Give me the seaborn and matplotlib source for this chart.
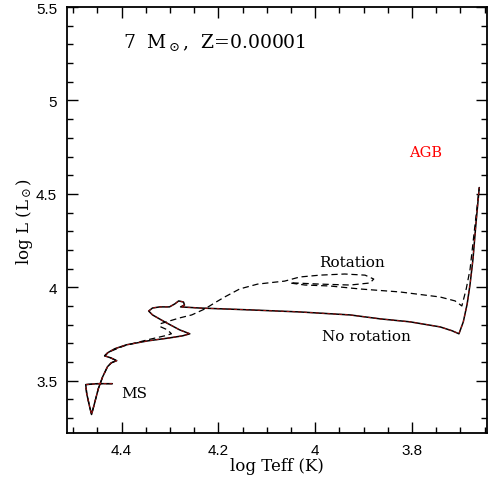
import numpy as np
import pandas as pd
import matplotlib
matplotlib.use("Agg")
import matplotlib.pyplot as plt
import seaborn as sns
from matplotlib.ticker import MultipleLocator, FormatStrFormatter

# --- track data (log Teff, log L) ---
teff_norot = [4.419, 4.450, 4.474, 4.472, 4.466, 4.462, 4.456, 4.448, 4.439, 4.429,
              4.421, 4.410, 4.423, 4.435, 4.429, 4.414, 4.390, 4.346, 4.301, 4.274,
              4.259, 4.280, 4.311, 4.336, 4.344, 4.336, 4.321, 4.301, 4.290, 4.282,
              4.272, 4.270, 4.278, 4.239, 4.135, 4.032, 3.928, 3.866, 3.804, 3.742,
              3.717, 3.703, 3.694, 3.686, 3.680, 3.674, 3.668, 3.661]
logl_norot = [3.484, 3.484, 3.479, 3.431, 3.361, 3.319, 3.377, 3.457, 3.521, 3.575,
              3.596, 3.607, 3.623, 3.633, 3.649, 3.671, 3.692, 3.713, 3.729, 3.740,
              3.751, 3.772, 3.815, 3.852, 3.873, 3.889, 3.895, 3.895, 3.911, 3.927,
              3.921, 3.905, 3.895, 3.889, 3.879, 3.868, 3.852, 3.831, 3.815, 3.788,
              3.767, 3.751, 3.815, 3.911, 4.017, 4.151, 4.337, 4.534]

teff_rot = [4.419, 4.450, 4.474, 4.472, 4.466, 4.462, 4.456, 4.448, 4.439, 4.429,
            4.421, 4.410, 4.423, 4.435, 4.425, 4.394, 4.346, 4.311, 4.297, 4.305,
            4.319, 4.321, 4.307, 4.280, 4.255, 4.228, 4.208, 4.187, 4.156, 4.119,
            4.081, 4.063, 4.032, 3.990, 3.939, 3.897, 3.879, 3.887, 3.928, 3.990,
            4.042, 4.052, 4.021, 3.970, 3.908, 3.825, 3.742, 3.711, 3.697, 3.688,
            3.680, 3.672, 3.661]
logl_rot = [3.484, 3.484, 3.479, 3.431, 3.361, 3.319, 3.377, 3.457, 3.521, 3.575,
            3.596, 3.607, 3.623, 3.633, 3.655, 3.687, 3.719, 3.740, 3.751, 3.772,
            3.788, 3.804, 3.815, 3.836, 3.852, 3.884, 3.916, 3.948, 3.991, 4.017,
            4.028, 4.033, 4.055, 4.065, 4.071, 4.065, 4.044, 4.023, 4.012, 4.017,
            4.023, 4.023, 4.012, 4.007, 3.991, 3.975, 3.948, 3.927, 3.900, 3.991,
            4.097, 4.284, 4.534]

xticks = [4.4, 4.2, 4.0, 3.8]
yticks = [3.5, 4.0, 4.5, 5.0, 5.5]

norot = pd.DataFrame({"teff": teff_norot, "logl": logl_norot})
rot = pd.DataFrame({"teff": teff_rot, "logl": logl_rot})

sns.set_style("ticks", {"axes.edgecolor": "black", "xtick.color": "black",
                        "ytick.color": "black", "text.color": "black",
                        "axes.labelcolor": "black"})
plt.rcParams["mathtext.fontset"] = "dejavuserif"

fig = plt.figure(figsize=(4.88, 4.89), dpi=100)
ax = fig.add_axes([0.137, 0.1125, 0.861, 0.871])

sns.lineplot(data=rot, x="teff", y="logl", sort=False, estimator=None, ax=ax,
             color="black", lw=0.9, linestyle=(0, (5, 3)))
sns.lineplot(data=norot, x="teff", y="logl", sort=False, estimator=None, ax=ax,
             color="black", lw=1.1)
sns.lineplot(data=norot, x="teff", y="logl", sort=False, estimator=None, ax=ax,
             color="#a01010", lw=0.7, linestyle=(0, (3, 3)))

ax.set_xlim(4.513, 3.645)
ax.set_ylim(3.22, 5.5)
ax.set_xticks(xticks)
ax.set_yticks(yticks)
ax.xaxis.set_minor_locator(MultipleLocator(0.05))
ax.yaxis.set_minor_locator(MultipleLocator(0.1))
ax.xaxis.set_major_formatter(FormatStrFormatter("%g"))
ax.yaxis.set_major_formatter(FormatStrFormatter("%g"))

ax.tick_params(which="both", direction="in", top=True, right=True, width=1.0,
               labelsize=11, pad=7, colors="black")
ax.tick_params(which="major", length=8)
ax.tick_params(which="minor", length=4)
for lab in ax.get_xticklabels() + ax.get_yticklabels():
    lab.set_family("Liberation Sans")
for sp in ax.spines.values():
    sp.set_linewidth(1.3)
    sp.set_color("black")

serif = "DejaVu Serif"
ax.set_xlabel("log Teff (K)", family=serif, fontsize=12, color="black")
ax.set_ylabel(r"log L (L$_\odot$)", family=serif, fontsize=12, color="black")
ax.xaxis.set_label_coords(0.5, -0.056)
ax.yaxis.set_label_coords(-0.075, 0.5)

ax.text(4.398, 5.286, r"7  M$_\odot$,  Z=0.00001", family=serif, fontsize=13.5,
        ha="left", va="baseline", color="black")
ax.text(3.924, 4.134, "Rotation", family=serif, fontsize=11, ha="center", va="center",
        color="black")
ax.text(3.895, 3.740, "No rotation", family=serif, fontsize=11, ha="center", va="center",
        color="black")
ax.text(4.400, 3.436, "MS", family=serif, fontsize=11, ha="left", va="center",
        color="black")
ax.text(3.771, 4.726, "AGB", family=serif, fontsize=10.5, ha="center", va="center",
        color="red")

fig.savefig("out.png", dpi=100)
